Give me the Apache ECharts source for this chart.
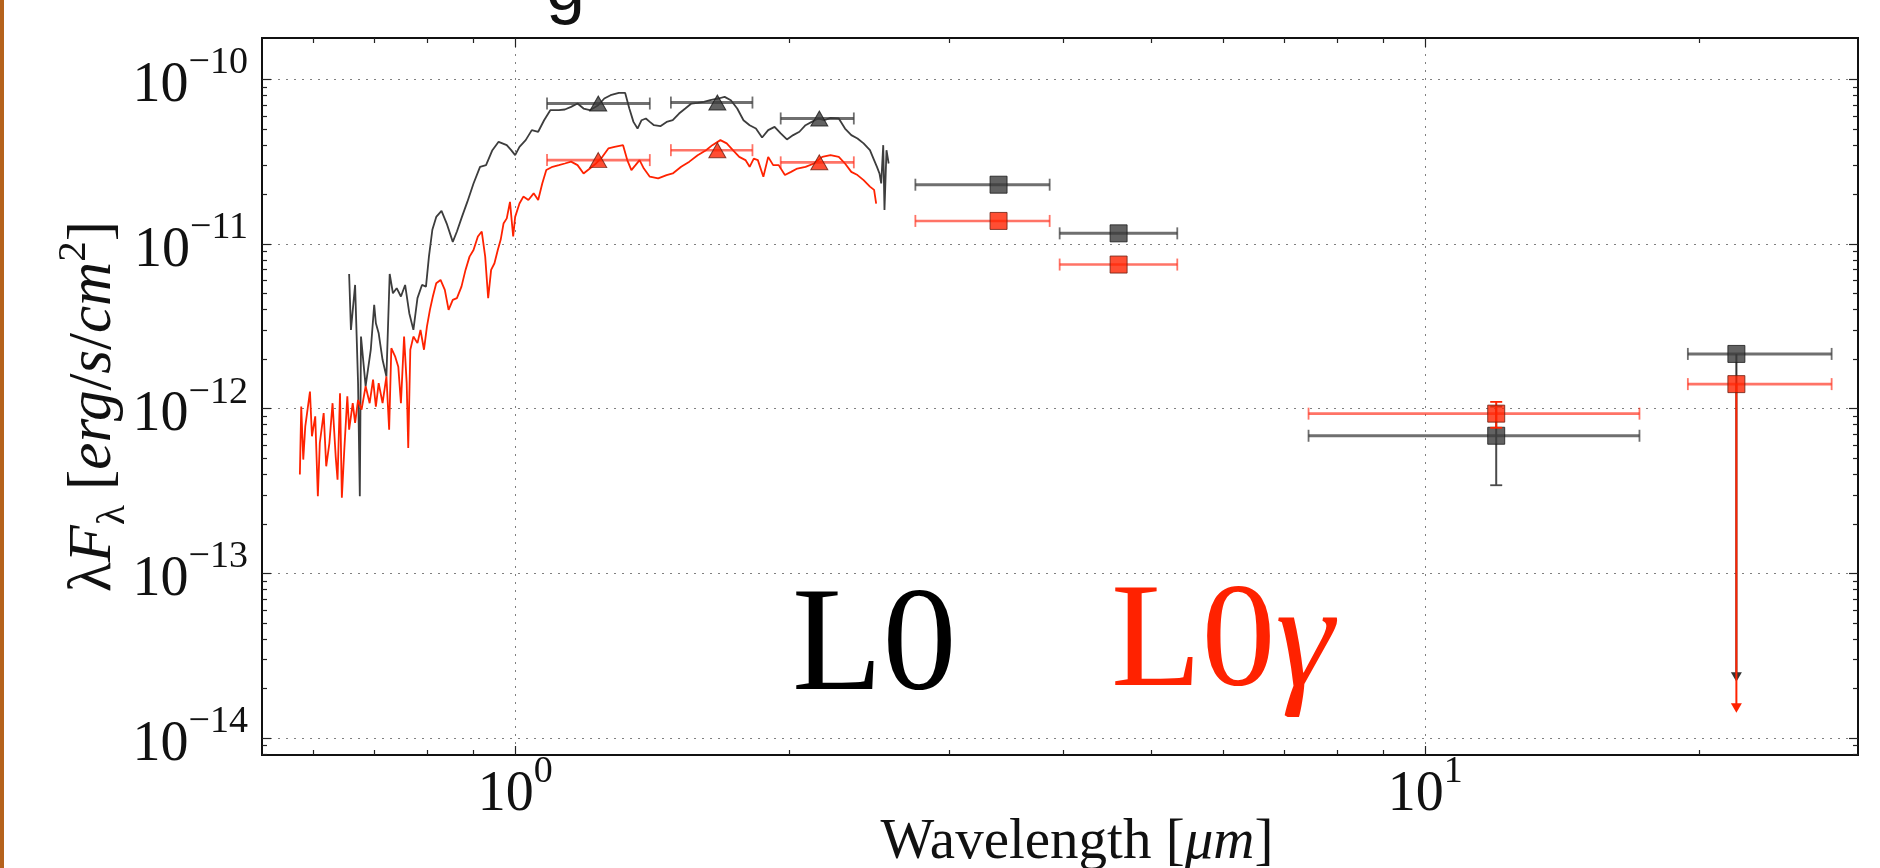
<!DOCTYPE html>
<html>
<head>
<meta charset="utf-8">
<script src="https://cdn.jsdelivr.net/npm/echarts@6/dist/echarts.min.js"></script>
<style>
  html, body { margin: 0; padding: 0; background: #ffffff; }
  #chart { width: 1880px; height: 868px; }
</style>
</head>
<body>
<div id="chart"></div>
<script>
// ---- Spectrum of the field L0 dwarf (wavelength in micron, lambda*F_lambda in erg/s/cm^2)
const specL0Wave = [
  0.657, 0.660, 0.667, 0.672, 0.675, 0.677, 0.685, 0.694, 0.700, 0.703,
  0.708, 0.715, 0.722, 0.728, 0.734, 0.741, 0.749, 0.757, 0.765, 0.773,
  0.781, 0.790, 0.798, 0.804, 0.811, 0.819, 0.830, 0.841, 0.854, 0.863,
  0.874, 0.886, 0.900, 0.915, 0.929, 0.944, 0.959, 0.979, 0.990, 1.000,
  1.011, 1.027, 1.043, 1.060, 1.076, 1.093, 1.117, 1.134, 1.152, 1.171,
  1.189, 1.208, 1.234, 1.253, 1.273, 1.300, 1.321, 1.335, 1.349, 1.363,
  1.377, 1.392, 1.406, 1.421, 1.444, 1.467, 1.490, 1.514, 1.538, 1.562,
  1.587, 1.612, 1.638, 1.673, 1.699, 1.726, 1.754, 1.782, 1.810, 1.839,
  1.868, 1.897, 1.928, 1.958, 1.989, 2.021, 2.053, 2.085, 2.118, 2.152,
  2.186, 2.221, 2.268, 2.304, 2.341, 2.378, 2.415, 2.454, 2.480, 2.498,
  2.514, 2.525, 2.538, 2.546, 2.559, 2.573
];
const specL0Flux = [
  6.58e-12, 3.01e-12, 5.64e-12, 1.43e-12, 2.94e-13, 2.74e-12, 1.37e-12, 2.28e-12, 4.27e-12, 3.30e-12,
  2.87e-12, 1.98e-12, 1.57e-12, 6.58e-12, 5.02e-12, 5.39e-12, 4.80e-12, 5.64e-12, 3.80e-12, 3.01e-12,
  4.69e-12, 5.64e-12, 5.51e-12, 8.38e-12, 1.22e-11, 1.46e-11, 1.59e-11, 1.33e-11, 1.03e-11, 1.19e-11,
  1.46e-11, 1.80e-11, 2.33e-11, 2.94e-11, 3.01e-11, 3.71e-11, 4.17e-11, 3.98e-11, 3.71e-11, 3.46e-11,
  3.89e-11, 4.27e-11, 4.91e-11, 4.80e-11, 5.64e-11, 6.49e-11, 6.49e-11, 6.55e-11, 6.80e-11, 7.12e-11,
  6.64e-11, 6.49e-11, 6.96e-11, 7.64e-11, 8.00e-11, 8.26e-11, 8.26e-11, 6.64e-11, 5.51e-11, 5.02e-11,
  5.64e-11, 5.78e-11, 5.51e-11, 5.26e-11, 5.19e-11, 5.51e-11, 5.64e-11, 6.19e-11, 6.64e-11, 7.12e-11,
  7.19e-11, 7.29e-11, 7.46e-11, 7.64e-11, 7.82e-11, 7.46e-11, 6.64e-11, 5.64e-11, 5.26e-11, 5.02e-11,
  4.43e-11, 4.91e-11, 5.14e-11, 4.69e-11, 4.31e-11, 4.58e-11, 4.80e-11, 5.26e-11, 5.51e-11, 5.78e-11,
  5.64e-11, 5.83e-11, 5.78e-11, 5.02e-11, 4.58e-11, 4.37e-11, 4.08e-11, 3.71e-11, 3.23e-11, 2.94e-11,
  2.68e-11, 2.33e-11, 3.98e-11, 1.61e-11, 3.71e-11, 3.08e-11
];

// ---- Spectrum of the low-gravity L0gamma dwarf
const specL0gWave = [
  0.580, 0.582, 0.585, 0.588, 0.595, 0.598, 0.603, 0.607, 0.610, 0.616,
  0.620, 0.625, 0.630, 0.635, 0.638, 0.642, 0.645, 0.649, 0.654, 0.657,
  0.663, 0.667, 0.672, 0.678, 0.685, 0.692, 0.698, 0.703, 0.708, 0.715,
  0.722, 0.727, 0.731, 0.738, 0.744, 0.749, 0.755, 0.760, 0.763, 0.767,
  0.773, 0.781, 0.787, 0.794, 0.800, 0.806, 0.812, 0.819, 0.828, 0.837,
  0.845, 0.854, 0.863, 0.873, 0.882, 0.891, 0.900, 0.910, 0.919, 0.927,
  0.934, 0.941, 0.949, 0.957, 0.964, 0.971, 0.979, 0.987, 0.995, 1.000,
  1.011, 1.021, 1.034, 1.048, 1.060, 1.071, 1.082, 1.099, 1.117, 1.134,
  1.152, 1.171, 1.189, 1.208, 1.227, 1.247, 1.266, 1.286, 1.314, 1.328,
  1.342, 1.356, 1.370, 1.385, 1.406, 1.436, 1.467, 1.490, 1.522, 1.554,
  1.587, 1.621, 1.647, 1.681, 1.708, 1.735, 1.763, 1.791, 1.810, 1.829,
  1.848, 1.874, 1.897, 1.921, 1.948, 1.979, 2.010, 2.042, 2.085, 2.130,
  2.175, 2.221, 2.268, 2.304, 2.341, 2.378, 2.415, 2.454, 2.480, 2.493
];
const specL0gFlux = [
  3.98e-13, 1.03e-12, 4.91e-13, 7.82e-13, 1.27e-12, 6.80e-13, 8.98e-13, 2.94e-13, 6.19e-13, 9.41e-13,
  4.47e-13, 6.19e-13, 1.08e-12, 5.14e-13, 3.71e-13, 1.24e-12, 2.88e-13, 5.64e-13, 1.19e-12, 7.46e-13,
  1.08e-12, 8.19e-13, 1.13e-12, 9.86e-13, 1.37e-12, 1.08e-12, 1.50e-12, 1.03e-12, 1.43e-12, 1.08e-12,
  1.57e-12, 7.46e-13, 2.33e-12, 2.08e-12, 1.80e-12, 1.08e-12, 2.74e-12, 1.43e-12, 5.78e-13, 2.28e-12,
  2.74e-12, 2.50e-12, 3.01e-12, 2.28e-12, 3.16e-12, 3.98e-12, 4.80e-12, 5.78e-12, 6.05e-12, 5.26e-12,
  3.98e-12, 4.58e-12, 4.69e-12, 5.51e-12, 6.96e-12, 8.38e-12, 9.20e-12, 1.11e-11, 1.19e-11, 8.38e-12,
  4.69e-12, 6.96e-12, 7.64e-12, 9.20e-12, 1.06e-11, 1.33e-11, 1.43e-11, 1.80e-11, 1.11e-11, 1.46e-11,
  1.76e-11, 1.94e-11, 1.85e-11, 2.03e-11, 1.85e-11, 2.33e-11, 2.81e-11, 2.94e-11, 3.01e-11, 3.08e-11,
  3.16e-11, 3.01e-11, 2.68e-11, 2.87e-11, 3.08e-11, 3.38e-11, 3.80e-11, 3.89e-11, 3.98e-11, 3.23e-11,
  2.81e-11, 3.01e-11, 3.23e-11, 2.87e-11, 2.56e-11, 2.50e-11, 2.62e-11, 2.68e-11, 2.94e-11, 3.16e-11,
  3.46e-11, 3.71e-11, 3.98e-11, 4.27e-11, 4.08e-11, 3.71e-11, 3.38e-11, 3.23e-11, 2.94e-11, 3.30e-11,
  3.23e-11, 2.56e-11, 3.38e-11, 3.01e-11, 3.01e-11, 2.62e-11, 2.74e-11, 2.87e-11, 2.94e-11, 3.08e-11,
  3.38e-11, 3.46e-11, 3.38e-11, 3.08e-11, 2.74e-11, 2.62e-11, 2.44e-11, 2.23e-11, 2.13e-11, 1.76e-11
];

// ---- Broad-band photometry (2MASS J, H, Ks and WISE W1-W4)
const bandNames    = ['J', 'H', 'Ks', 'W1', 'W2', 'W3', 'W4'];
const bandShape    = ['triangle', 'triangle', 'triangle', 'rect', 'rect', 'rect', 'rect'];
const bandWave     = [1.234, 1.668, 2.159, 3.398, 4.604, 11.97, 21.98];
const bandWaveLow  = [1.084, 1.483, 1.958, 2.753, 3.966, 7.445, 19.44];
const bandWaveHigh = [1.406, 1.823, 2.356, 3.867, 5.341, 17.20, 27.97];

const photL0        = [7.12e-11, 7.22e-11, 5.78e-11, 2.29e-11, 1.16e-11, 6.85e-13, 2.15e-12];
const photL0ErrLow  = [null, null, null, null, null, 3.43e-13, null];
const photL0ErrHigh = [null, null, null, null, null, 1.03e-12, null];

const photL0g        = [3.23e-11, 3.71e-11, 3.13e-11, 1.38e-11, 7.50e-12, 9.33e-13, 1.41e-12];
const photL0gErrLow  = [null, null, null, null, null, 7.66e-13, null];
const photL0gErrHigh = [null, null, null, null, null, 1.10e-12, null];

// W4 upper limits (arrow end points)
const limitBand = 'W4';
const limitL0  = 2.34e-14;
const limitL0g = 1.52e-14;

// ---- Axis ranges and tick values
const xRange = [0.527, 29.9];
const yRange = [7.9e-15, 1.78e-10];
const xMajorTicks = [1, 10];
const xMinorTicks = [0.6, 0.7, 0.8, 0.9, 2, 3, 4, 5, 6, 7, 8, 9, 20];
const yMajorTicks = [1e-14, 1e-13, 1e-12, 1e-11, 1e-10];
const minorMultipliers = [2, 3, 4, 5, 6, 7, 8, 9];

const yMinorTicks = [];
[-15, -14, -13, -12, -11, -10].forEach(function (e) {
  minorMultipliers.forEach(function (m) {
    const v = m * Math.pow(10, e);
    if (v > yRange[0] && v < yRange[1]) yMinorTicks.push(v);
  });
});

const SERIF = "'Liberation Serif', 'Times New Roman', serif";
const RED = '#ff2200';
const DARK = '#3b3b3b';

function zip(a, b) { return a.map(function (v, i) { return [v, b[i]]; }); }

function errData(flux, lo, hi) {
  return bandWave.map(function (w, i) {
    return [w, flux[i], bandWaveLow[i], bandWaveHigh[i],
            lo[i] == null ? flux[i] : lo[i], hi[i] == null ? flux[i] : hi[i]];
  });
}

function markerData(flux, shape) {
  const out = [];
  bandWave.forEach(function (w, i) {
    if (bandShape[i] === shape) out.push([w, flux[i]]);
  });
  return out;
}

// error bars with caps, drawn through the axes' log scales
function errorBars(hColor, hWidth, vColor, vWidth, cap) {
  return function (params, api) {
    const x = api.value(0), y = api.value(1);
    const xlo = api.value(2), xhi = api.value(3);
    const ylo = api.value(4), yhi = api.value(5);
    const kids = [];
    const hs = { stroke: hColor, lineWidth: hWidth };
    const vs = { stroke: vColor, lineWidth: vWidth };
    const a = api.coord([xlo, y]), b = api.coord([xhi, y]);
    kids.push({ type: 'line', shape: { x1: a[0], y1: a[1], x2: b[0], y2: b[1] }, style: hs });
    kids.push({ type: 'line', shape: { x1: a[0], y1: a[1] - cap, x2: a[0], y2: a[1] + cap }, style: { stroke: hColor, lineWidth: 1.8 } });
    kids.push({ type: 'line', shape: { x1: b[0], y1: b[1] - cap, x2: b[0], y2: b[1] + cap }, style: { stroke: hColor, lineWidth: 1.8 } });
    if (ylo !== y || yhi !== y) {
      const c = api.coord([x, ylo]), d = api.coord([x, yhi]);
      kids.push({ type: 'line', shape: { x1: c[0], y1: c[1], x2: d[0], y2: d[1] }, style: vs });
      kids.push({ type: 'line', shape: { x1: c[0] - cap, y1: c[1], x2: c[0] + cap, y2: c[1] }, style: { stroke: vColor, lineWidth: 1.8 } });
      kids.push({ type: 'line', shape: { x1: d[0] - cap, y1: d[1], x2: d[0] + cap, y2: d[1] }, style: { stroke: vColor, lineWidth: 1.8 } });
    }
    return { type: 'group', children: kids };
  };
}

// upper-limit arrows: vertical line from the point down to the limit with a down-pointing head
function limitArrow(color, width) {
  return function (params, api) {
    const p = api.coord([api.value(0), api.value(1)]);
    const q = api.coord([api.value(0), api.value(2)]);
    return {
      type: 'group',
      children: [
        { type: 'line', shape: { x1: p[0], y1: p[1], x2: q[0], y2: q[1] }, style: { stroke: color, lineWidth: width } },
        { type: 'polygon', shape: { points: [[q[0] - 5.5, q[1] - 5], [q[0] + 5.5, q[1] - 5], [q[0], q[1] + 4.5]] },
          style: { fill: color } }
      ]
    };
  };
}

const wIdx = bandNames.indexOf(limitBand);

function supLabel(v) {
  const e = Math.round(Math.log10(v));
  return '{b|10}{s|' + (e < 0 ? '\u2212' : '') + Math.abs(e) + '}';
}
// "10" sits slightly below the tick, the exponent is raised
const tickRich = {
  b: { fontFamily: SERIF, fontSize: 56, color: '#111', lineHeight: 70, padding: [10, 0, 0, 0], verticalAlign: 'bottom' },
  s: { fontFamily: SERIF, fontSize: 38, color: '#111', lineHeight: 54, verticalAlign: 'top' }
};

const tickLine = { color: '#222', width: 1.2 };
const dotted = { color: '#808080', width: 1, type: [2, 6] };

function logAxis(base, extra) {
  return Object.assign({
    type: 'log', logBase: 10, min: base[0], max: base[1], gridIndex: 0,
    axisLine: { show: false }, splitLine: { show: false },
    axisLabel: { show: false }, axisTick: { show: false }, minorTick: { show: false }
  }, extra);
}

const option = {
  animation: false,
  backgroundColor: '#ffffff',
  grid: {
    left: 262, right: 22, top: 38, bottom: 113,
    outerBoundsMode: 'none', containLabel: false,
    show: true, borderColor: '#111', borderWidth: 2, backgroundColor: 'transparent'
  },
  xAxis: [
    logAxis(xRange, {
      position: 'bottom',
      axisTick: { show: true, inside: true, length: 9, customValues: xMajorTicks, lineStyle: tickLine },
      axisLabel: { show: true, customValues: xMajorTicks, formatter: supLabel, rich: tickRich, margin: -2 },
      splitLine: { show: true, lineStyle: dotted },
      name: '{a|Wavelength [}{i|\u03bcm}{a|]}',
      nameLocation: 'middle', nameGap: 60, nameMoveOverlap: false,
      nameTextStyle: {
        padding: [0, 0, 0, 34],
        rich: {
          a: { fontFamily: SERIF, fontSize: 57, color: '#111' },
          i: { fontFamily: SERIF, fontSize: 57, color: '#111', fontStyle: 'italic' }
        }
      }
    }),
    logAxis(xRange, { position: 'bottom', axisTick: { show: true, inside: true, length: 5, customValues: xMinorTicks, lineStyle: tickLine } }),
    logAxis(xRange, { position: 'top', axisTick: { show: true, inside: true, length: 9, customValues: xMajorTicks, lineStyle: tickLine } }),
    logAxis(xRange, { position: 'top', axisTick: { show: true, inside: true, length: 5, customValues: xMinorTicks, lineStyle: tickLine } })
  ],
  yAxis: [
    logAxis(yRange, {
      position: 'left',
      axisTick: { show: true, inside: true, length: 9, customValues: yMajorTicks, lineStyle: tickLine },
      axisLabel: { show: true, customValues: yMajorTicks, formatter: supLabel, rich: tickRich, margin: 14 },
      splitLine: { show: true, lineStyle: dotted },
      name: '{a|\u03bb}{i|F}{sub|\u03bb}{a| [}{i|erg}{a|/}{i|s}{a|/}{i|cm}{sup|2}{a|]}',
      nameLocation: 'middle', nameGap: 128, nameRotate: 90, nameMoveOverlap: false,
      nameTextStyle: {
        padding: [0, 20, 0, 0],
        rich: {
          a: { fontFamily: SERIF, fontSize: 61, color: '#111', lineHeight: 80 },
          i: { fontFamily: SERIF, fontSize: 61, color: '#111', fontStyle: 'italic', lineHeight: 80 },
          sub: { fontFamily: SERIF, fontSize: 41, color: '#111', lineHeight: 40, verticalAlign: 'bottom' },
          sup: { fontFamily: SERIF, fontSize: 41, color: '#111', lineHeight: 40, verticalAlign: 'top' }
        }
      }
    }),
    logAxis(yRange, { position: 'left', axisTick: { show: true, inside: true, length: 5, customValues: yMinorTicks, lineStyle: tickLine } }),
    logAxis(yRange, { position: 'right', axisTick: { show: true, inside: true, length: 9, customValues: yMajorTicks, lineStyle: tickLine } }),
    logAxis(yRange, { position: 'right', axisTick: { show: true, inside: true, length: 5, customValues: yMinorTicks, lineStyle: tickLine } })
  ],
  series: [
    {
      name: 'L0 spectrum', type: 'line', xAxisIndex: 0, yAxisIndex: 0,
      data: zip(specL0Wave, specL0Flux), showSymbol: false, symbol: 'none',
      lineStyle: { color: '#3d3d3d', width: 1.8 }, z: 2
    },
    {
      name: 'L0g spectrum', type: 'line', xAxisIndex: 0, yAxisIndex: 0,
      data: zip(specL0gWave, specL0gFlux), showSymbol: false, symbol: 'none',
      lineStyle: { color: RED, width: 1.8 }, z: 2
    },
    {
      name: 'L0 limit', type: 'custom', xAxisIndex: 0, yAxisIndex: 0, z: 3,
      renderItem: limitArrow('#333333', 2),
      data: [[bandWave[wIdx], photL0[wIdx], limitL0]],
      encode: { x: 0, y: [1, 2] }
    },
    {
      name: 'L0 errors', type: 'custom', xAxisIndex: 0, yAxisIndex: 0, z: 3,
      renderItem: errorBars('rgba(55,55,55,0.72)', 3, '#4a4a4a', 2, 6),
      data: errData(photL0, photL0ErrLow, photL0ErrHigh),
      encode: { x: [0, 2, 3], y: [1, 4, 5] }
    },
    {
      name: 'L0 JHK', type: 'scatter', xAxisIndex: 0, yAxisIndex: 0, z: 4,
      symbol: 'triangle', symbolSize: [17, 15],
      itemStyle: { color: DARK, borderColor: '#1a1a1a', borderWidth: 1 },
      data: markerData(photL0, 'triangle')
    },
    {
      name: 'L0 WISE', type: 'scatter', xAxisIndex: 0, yAxisIndex: 0, z: 4,
      symbol: 'rect', symbolSize: 17,
      itemStyle: { color: DARK, borderColor: '#1a1a1a', borderWidth: 1 },
      data: markerData(photL0, 'rect')
    },
    {
      name: 'L0g limit', type: 'custom', xAxisIndex: 0, yAxisIndex: 0, z: 5,
      renderItem: limitArrow(RED, 2),
      data: [[bandWave[wIdx], photL0g[wIdx], limitL0g]],
      encode: { x: 0, y: [1, 2] }
    },
    {
      name: 'L0g errors', type: 'custom', xAxisIndex: 0, yAxisIndex: 0, z: 5,
      renderItem: errorBars('rgba(255,40,20,0.65)', 2.6, RED, 2, 6),
      data: errData(photL0g, photL0gErrLow, photL0gErrHigh),
      encode: { x: [0, 2, 3], y: [1, 4, 5] }
    },
    {
      name: 'L0g JHK', type: 'scatter', xAxisIndex: 0, yAxisIndex: 0, z: 6,
      symbol: 'triangle', symbolSize: [17, 15],
      itemStyle: { color: RED, borderColor: '#6b1e10', borderWidth: 1 },
      data: markerData(photL0g, 'triangle')
    },
    {
      name: 'L0g WISE', type: 'scatter', xAxisIndex: 0, yAxisIndex: 0, z: 6,
      symbol: 'rect', symbolSize: 17,
      itemStyle: { color: RED, borderColor: '#6b1e10', borderWidth: 1 },
      data: markerData(photL0g, 'rect')
    }
  ],
  graphic: [
    { type: 'rect', left: 0, top: 0, shape: { width: 4, height: 868 }, style: { fill: '#b5621c' }, z: 10 },
    { type: 'text', x: 546, y: 26, z: 10,
      style: { text: 'g', fontFamily: "'Liberation Sans', Arial, sans-serif", fontSize: 70, fill: '#111',
               align: 'left', verticalAlign: 'bottom' } },
    { type: 'text', x: 792, y: 650, z: 10,
      style: { text: 'L0', fontFamily: SERIF, fontSize: 148, fill: '#000', align: 'left', verticalAlign: 'middle' } },
    { type: 'text', x: 1111, y: 646, z: 10,
      style: {
        text: '{a|L0}{g|\u03b3}', align: 'left', verticalAlign: 'middle',
        rich: {
          a: { fontFamily: SERIF, fontSize: 148, fill: RED, color: RED },
          g: { fontFamily: SERIF, fontSize: 148, fontStyle: 'italic', fill: RED, color: RED }
        }
      } }
  ]
};

const chart = echarts.init(document.getElementById('chart'), null, { renderer: 'canvas', width: 1880, height: 868 });
chart.setOption(option);
</script>
</body>
</html>
